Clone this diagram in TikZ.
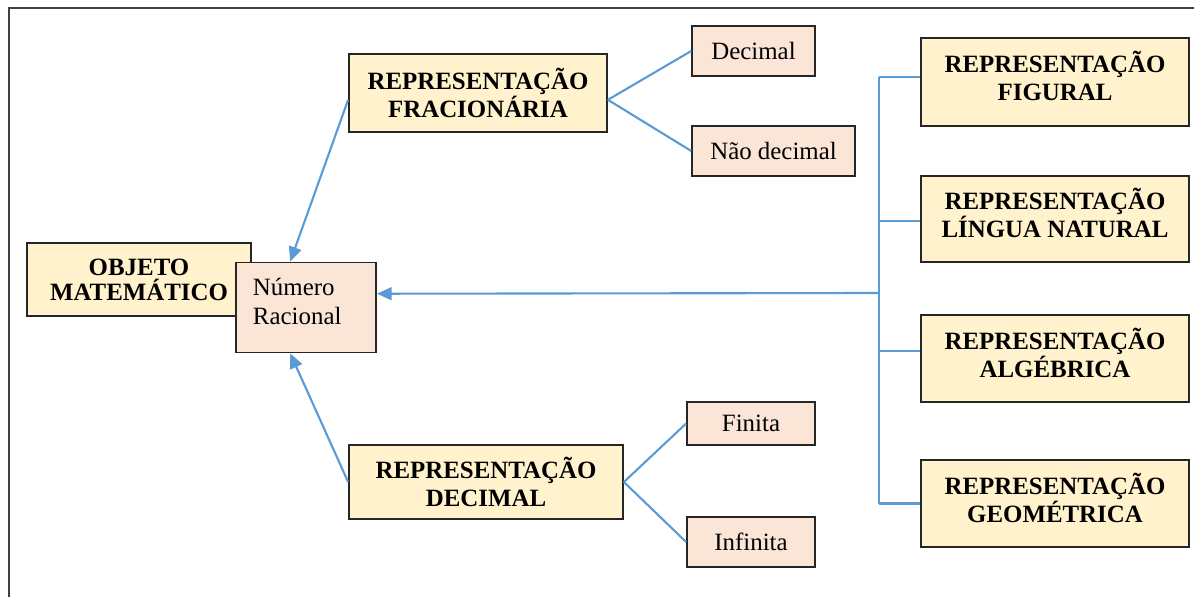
\documentclass[tikz,border=0pt]{standalone}
\usepackage{fontspec}
\setmainfont{Liberation Serif}
\usepackage{tikz}
\usetikzlibrary{positioning}
\usetikzlibrary{arrows.meta}

\definecolor{boxyellow}{HTML}{FFF2CC}
\definecolor{boxpink}{HTML}{FBE5D6}
\definecolor{linkblue}{HTML}{5B9BD5}

\begin{document}
\begin{tikzpicture}[x=0.025cm,y=-0.025cm,
  every node/.style={inner sep=0pt},
  repbox/.style={rectangle,draw=black!85,line width=1.2pt,fill=boxyellow,align=center,font=\fontsize{17.7}{20.5}\selectfont\bfseries},
  rightbox/.style={repbox,minimum width=6.7cm,text depth=0.3cm,font=\fontsize{17.7}{19.8}\selectfont\bfseries},
  leafbox/.style={rectangle,draw=black!85,line width=1.2pt,fill=boxpink,align=center,font=\fontsize{17.7}{20.5}\selectfont},
  link/.style={draw=linkblue,line width=1.5pt},
  arrowlink/.style={link,-{Triangle[length=0.37cm,width=0.32cm]}}]
\useasboundingbox (0,0) rectangle (1194,597);
\draw[black!75,line width=1.3pt] (9,597) -- (9,8) -- (1194,8);

\node[repbox,minimum width=5.6cm,minimum height=1.825cm,font=\fontsize{17.7}{17.7}\selectfont\bfseries] (obj) at (139,279.5) {OBJETO\\MATEMÁTICO};
\node[leafbox,minimum width=3.5cm,minimum height=2.25cm,align=left,text width=2.65cm,text depth=1.03cm] (num) at (306,307.5) {Número\\Racional};

\node[repbox,minimum width=6.45cm,minimum height=1.95cm] (frac) at (478,93) {REPRESENTAÇÃO\\FRACIONÁRIA};
\node[leafbox,minimum width=3.07cm,minimum height=1.25cm] (decimal) at (753.5,51) {Decimal};
\node[leafbox,minimum width=4.07cm,minimum height=1.25cm] (naodec) at (773.5,151) {Não decimal};

\node[repbox,minimum width=6.85cm,minimum height=1.85cm] (repdec) at (486,482) {REPRESENTAÇÃO\\DECIMAL};
\node[leafbox,minimum width=3.2cm,minimum height=1.075cm] (finita) at (751,423.5) {Finita};
\node[leafbox,minimum width=3.2cm,minimum height=1.25cm] (infinita) at (751,542) {Infinita};

\node[rightbox,minimum height=2.2cm] (figural) at (1055,82) {REPRESENTAÇÃO\\FIGURAL};
\node[rightbox,minimum height=2.15cm] (lingua) at (1055,219) {REPRESENTAÇÃO\\LÍNGUA NATURAL};
\node[rightbox,minimum height=2.175cm] (alg) at (1055,358.5) {REPRESENTAÇÃO\\ALGÉBRICA};
\node[rightbox,minimum height=2.175cm] (geo) at (1055,503.5) {REPRESENTAÇÃO\\GEOMÉTRICA};

\draw[arrowlink] (frac.183) -- (num.109);
\draw[arrowlink] (repdec.west) -- (num.251);
\coordinate (bus) at (879,293);
\draw[arrowlink] (bus) -- (num.11);
\draw[link] (bus |- figural.178) -- (bus |- geo.west);
\foreach \n/\a in {figural/178,lingua/181,alg/177,geo/180}
  \draw[link] (bus |- \n.\a) -- (\n.\a);
\foreach \n in {decimal,naodec}
  \draw[link] (frac.-3) -- (\n.west);
\foreach \n in {finita,infinita}
  \draw[link] (repdec.east) -- (\n.west);
\end{tikzpicture}
\end{document}
